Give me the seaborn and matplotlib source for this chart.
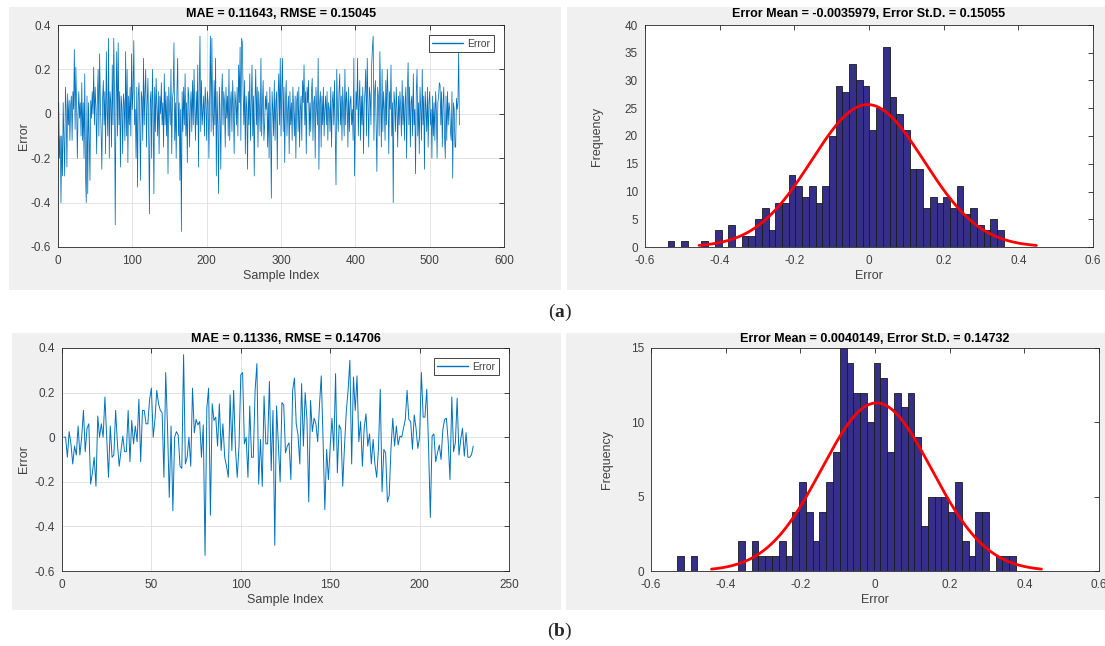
import numpy as np
import pandas as pd
import matplotlib
matplotlib.use("Agg")
import matplotlib.pyplot as plt
import matplotlib.patches as mpatches
import seaborn as sns

# ---------------- data ----------------
# (a) error series, 540 samples
err_a = [
 0.05,-0.20,-0.10,-0.40,-0.10,-0.28,0.05,-0.12,-0.28,0.12,0.02,-0.24,0.09,-0.05,0.06,-0.12,0.04,0.08,-0.12,0.10,
 0.02,0.29,-0.07,0.21,0.05,-0.20,0.00,0.10,-0.02,0.05,-0.10,0.14,-0.12,0.05,-0.20,0.18,-0.27,-0.40,0.08,-0.36,
 0.05,-0.10,-0.30,0.06,-0.02,0.10,0.00,0.21,-0.05,0.12,0.03,-0.18,0.08,0.20,-0.10,0.27,0.05,-0.08,-0.25,0.07,
 0.15,-0.05,0.10,-0.18,0.28,0.02,-0.10,0.34,-0.20,0.10,0.05,-0.15,0.22,-0.05,0.34,0.10,-0.50,0.05,0.28,-0.10,
 0.32,-0.05,0.10,-0.24,0.08,0.03,-0.18,0.09,0.05,-0.12,0.28,-0.10,0.20,-0.22,0.08,-0.05,0.12,-0.10,0.27,0.02,
 0.10,0.33,-0.05,0.02,-0.20,0.12,-0.33,0.08,0.14,-0.05,-0.30,0.10,0.07,-0.12,0.25,-0.05,0.10,0.20,-0.15,0.05,
 0.16,-0.10,-0.45,0.05,0.10,-0.20,0.20,0.02,-0.36,0.12,-0.08,0.16,0.02,-0.10,0.10,-0.18,0.08,0.00,0.14,-0.05,
 0.05,-0.15,0.18,-0.05,0.10,-0.10,0.08,-0.27,0.12,0.02,-0.05,0.20,-0.18,0.07,0.10,0.32,-0.12,0.05,-0.20,0.10,
 0.25,-0.10,0.05,-0.30,0.02,-0.53,0.10,-0.08,0.12,-0.05,0.18,-0.10,0.05,-0.22,0.12,0.08,-0.15,0.03,0.10,-0.08,
 0.15,-0.05,0.20,0.02,-0.12,0.10,-0.05,0.22,-0.24,0.10,0.35,-0.08,0.15,-0.05,0.02,0.08,-0.10,0.12,0.05,-0.12,
 0.10,0.05,-0.20,0.08,0.35,-0.08,0.34,0.00,-0.10,0.15,-0.05,0.25,-0.28,0.10,-0.05,-0.36,0.12,0.02,-0.25,0.08,
 0.18,-0.05,0.10,0.05,-0.15,0.12,-0.02,0.08,-0.10,0.20,-0.12,0.05,0.10,-0.08,0.15,0.02,-0.18,0.10,0.05,-0.05,
 0.12,-0.10,0.22,0.05,0.30,-0.12,0.34,0.32,0.10,-0.05,0.15,-0.18,0.08,0.02,-0.25,0.10,-0.05,0.18,-0.12,0.05,
 0.22,-0.10,0.08,-0.28,0.05,0.20,-0.05,0.12,-0.15,0.10,0.02,-0.08,0.25,-0.10,0.05,0.15,-0.12,-0.05,0.08,0.02,
 0.10,-0.15,0.05,-0.20,0.12,-0.05,-0.38,0.10,0.02,-0.10,0.15,-0.12,0.05,0.10,-0.25,0.08,0.18,-0.05,0.25,-0.10,
 0.10,0.25,-0.08,0.12,-0.22,0.05,0.15,-0.10,0.02,0.08,-0.18,0.10,-0.05,0.05,-0.12,0.12,0.02,-0.10,0.08,-0.20,
 0.05,0.10,-0.08,0.12,-0.15,0.02,0.08,-0.12,0.15,0.05,0.22,-0.05,0.10,-0.18,0.12,0.05,0.15,-0.10,0.05,-0.08,
 0.10,0.16,-0.12,0.05,0.08,-0.20,0.12,0.02,-0.05,0.25,-0.25,0.05,0.10,-0.15,0.08,-0.05,0.12,-0.10,0.02,0.08,
 -0.05,0.10,-0.12,0.05,0.02,-0.08,0.12,-0.15,0.05,0.10,-0.05,0.15,-0.10,-0.32,0.20,0.02,-0.08,0.10,0.18,-0.05,
 0.08,-0.12,0.12,0.02,-0.10,0.20,-0.05,0.10,0.05,-0.15,0.12,-0.08,0.05,0.08,-0.05,0.02,-0.12,0.25,-0.28,-0.05,
 0.10,0.02,0.25,-0.10,0.05,0.15,-0.12,0.08,-0.05,0.12,-0.18,0.05,0.10,0.20,-0.10,0.25,0.05,-0.15,0.12,0.08,
 -0.05,0.22,0.30,0.35,-0.12,0.10,0.15,-0.05,-0.26,0.12,0.08,-0.10,0.28,0.05,-0.15,0.20,-0.08,0.10,0.02,-0.12,
 0.15,-0.05,0.20,0.08,-0.18,0.10,0.02,0.22,-0.10,0.05,-0.40,0.10,0.05,-0.08,0.12,0.02,-0.15,0.08,-0.05,0.10,
 0.02,-0.10,0.15,-0.05,0.08,-0.12,0.05,0.12,-0.20,0.10,0.23,-0.05,0.12,-0.15,0.05,0.08,-0.10,0.18,-0.05,0.02,
 -0.27,0.10,0.20,-0.10,0.05,-0.18,0.12,0.02,-0.12,0.20,-0.05,0.08,-0.25,0.10,0.02,-0.08,0.12,-0.15,0.05,0.10,
 -0.05,0.02,-0.20,0.08,-0.10,0.05,-0.12,0.10,0.02,-0.20,0.05,0.08,0.14,0.13,-0.05,0.10,-0.15,0.05,0.12,-0.10,
 -0.20,0.08,-0.12,0.10,-0.05,0.05,0.02,-0.08,-0.12,0.10,-0.29,0.05,0.02,-0.15,-0.15,0.07,0.02,0.05,0.28,-0.05,
]

# (b) error series, 230 samples
err_b = [
 0.00,0.00,-0.09,0.025,-0.03,-0.12,-0.04,-0.08,0.05,-0.08,
 0.00,0.12,-0.065,0.04,0.06,-0.21,-0.16,-0.09,-0.22,0.095,
 0.00,0.06,0.00,0.18,0.00,-0.18,0.05,-0.09,-0.08,0.12,
 -0.03,-0.13,-0.06,0.005,-0.065,-0.065,0.12,-0.11,0.075,-0.03,
 0.05,-0.02,0.17,-0.11,0.12,0.12,0.06,0.06,0.17,0.22,
 0.00,0.08,0.21,0.15,0.12,0.11,-0.18,0.29,0.05,-0.27,
 0.05,-0.33,0.00,0.025,0.01,-0.13,-0.14,0.37,-0.12,-0.09,
 0.00,-0.13,0.22,0.02,0.08,0.055,0.07,-0.09,0.055,-0.53,
 0.13,0.22,-0.35,0.15,0.075,0.09,-0.04,0.15,-0.06,0.06,
 -0.09,-0.13,-0.18,0.19,-0.06,0.21,-0.05,-0.18,-0.04,0.28,
 0.29,-0.03,0.00,-0.18,0.14,-0.09,-0.09,0.21,0.33,-0.21,
 -0.01,-0.22,0.185,-0.03,-0.03,0.25,-0.15,0.12,-0.485,0.14,
 -0.03,-0.20,0.155,0.145,-0.07,-0.04,-0.025,-0.19,0.21,0.265,
 0.06,0.01,-0.12,0.24,-0.04,0.20,0.08,-0.29,0.165,0.025,
 0.085,0.06,-0.02,0.145,0.275,-0.01,-0.325,-0.055,-0.19,-0.04,
 0.085,-0.06,0.285,-0.16,0.055,0.035,-0.22,-0.04,0.115,0.21,
 0.345,-0.12,0.27,0.12,0.275,-0.02,0.07,-0.13,0.04,0.105,
 -0.04,0.015,-0.12,-0.01,-0.12,-0.18,-0.05,0.215,-0.245,-0.055,
 -0.07,-0.29,-0.26,-0.05,0.085,-0.04,0.05,-0.035,0.005,0.00,
 0.04,0.08,0.21,0.08,0.07,-0.055,0.10,0.04,-0.05,0.00,
 0.29,0.09,0.09,0.215,-0.04,-0.36,0.005,0.015,-0.11,-0.07,
 -0.035,-0.10,0.035,0.08,0.085,-0.02,-0.19,0.18,-0.065,-0.025,
 0.175,-0.08,-0.01,0.04,-0.085,0.02,-0.09,-0.09,-0.08,-0.04,
]

# histogram counts (50 bins each)
counts_a = [1,0,1,0,0,1,0,3,0,4, 0,2,2,5,7,3,8,8,13,11,
            9,11,8,11,20,29,28,33,30,29, 21,25,36,27,24,21,14,14,7,9,
            8,9,7,11,6,7,4,3,5,3]
bin_lo_a, bin_w_a = -0.539, 0.018
counts_b = [1,0,1,0,0,0,0,0,0,2, 0,2,1,1,1,2,1,4,6,4,
            2,4,6,8,15,14,12,12,10,14, 13,8,12,11,12,9,3,5,5,5,
            4,6,2,1,4,4,0,1,1,1]
bin_lo_b, bin_w_b = -0.530, 0.01815

# fit parameters (from titles)
mae_a, rmse_a, mean_a, std_a = "0.11643", "0.15045", -0.0035979, 0.15055
mae_b, rmse_b, mean_b, std_b = "0.11336", "0.14706", 0.0040149, 0.14732

# ---------------- style ----------------
sns.set_style("white")
plt.rcParams['font.family'] = ['Liberation Sans', 'DejaVu Sans']
plt.rcParams['axes.unicode_minus'] = False
plt.rcParams['mathtext.fontset'] = 'custom'
plt.rcParams['mathtext.bf'] = 'Liberation Serif:bold'
plt.rcParams['mathtext.rm'] = 'Liberation Serif'

W, H = 1105, 646
fig = plt.figure(figsize=(W / 100, H / 100), dpi=100)
fig.patch.set_facecolor('white')

PANEL = '#f0f0f0'
AXC = '#262626'
TICKC = '#404040'
LINEC = '#0072BD'
BARC = '#352f8a'


def px_rect(x0, y0, x1, y1):
    return [x0 / W, 1 - y1 / H, (x1 - x0) / W, (y1 - y0) / H]


# gray figure panels (behind the axes)
for (x0, y0, x1, y1) in [(9, 7, 561, 290), (567, 7, 1105, 290),
                         (12, 333, 561, 610), (566, 333, 1105, 610)]:
    r = px_rect(x0, y0, x1, y1)
    fig.patches.append(mpatches.Rectangle((r[0], r[1]), r[2], r[3],
                                          transform=fig.transFigure,
                                          facecolor=PANEL, edgecolor='none',
                                          zorder=-10))


def style_axes(ax, grid):
    for s in ax.spines.values():
        s.set_color(AXC)
        s.set_linewidth(0.6)
        s.set_visible(True)
    ax.tick_params(direction='in', top=True, right=True, length=3.5,
                   width=0.6, color=AXC, labelsize=8.5, labelcolor=TICKC)
    ax.tick_params(axis='x', pad=6)
    ax.tick_params(axis='y', pad=5)
    if grid:
        ax.grid(True, color='#dedede', linewidth=0.6)
        ax.set_axisbelow(True)
    else:
        ax.grid(False)
    ax.set_facecolor('white')


def fmt(v):
    s = f"{v:.1f}"
    if s in ("0.0", "-0.0"):
        return "0"
    return s


def line_panel(rect, data, xmax, title, ylab_px, lw, tpad):
    ax = fig.add_axes(rect)
    ax.set_zorder(1)
    df = pd.DataFrame({'idx': np.arange(1, len(data) + 1), 'err': data})
    sns.lineplot(data=df, x='idx', y='err', ax=ax, color=LINEC, linewidth=lw,
                 label='Error', estimator=None)
    ax.set_xlim(0, xmax)
    ax.set_ylim(-0.6, 0.4)
    yt = np.arange(-0.6, 0.41, 0.2)
    ax.set_yticks(yt)
    ax.set_yticklabels([fmt(v) for v in yt])
    style_axes(ax, True)
    ax.set_xlabel('Sample Index', fontsize=9, color=TICKC, labelpad=2)
    ax.set_ylabel('Error', fontsize=9, color=TICKC)
    ax.yaxis.set_label_coords(ylab_px, 0.5)
    ax.set_title(title, fontsize=9, fontweight='bold', color='black', pad=tpad)
    leg = ax.legend(loc='upper right', fontsize=7.4, frameon=True,
                    fancybox=False, framealpha=1, edgecolor=AXC,
                    handlelength=3.0, borderpad=0.35, handletextpad=0.4,
                    borderaxespad=1.0)
    leg.get_frame().set_linewidth(0.6)
    for h in leg.get_lines():
        h.set_color(LINEC)
        h.set_linewidth(1.0)
    for t in leg.get_texts():
        t.set_color(TICKC)
    return ax


def hist_panel(rect, counts, lo, w, mu, sd, ymax, title, ylab_px, tpad):
    ax = fig.add_axes(rect)
    ax.set_zorder(1)
    counts = np.asarray(counts, dtype=float)
    nb = len(counts)
    edges = lo + w * np.arange(nb + 1)
    centers = 0.5 * (edges[:-1] + edges[1:])
    df = pd.DataFrame({'err': centers, 'cnt': counts})
    sns.histplot(data=df, x='err', weights='cnt', bins=list(edges), ax=ax,
                 color=BARC, edgecolor='#1a1a1a', linewidth=0.6, alpha=1.0)
    n = counts.sum()
    xs = np.linspace(mu - 3 * sd, mu + 3 * sd, 200)
    ys = n * w * np.exp(-0.5 * ((xs - mu) / sd) ** 2) / (sd * np.sqrt(2 * np.pi))
    fit = pd.DataFrame({'x': xs, 'y': ys})
    sns.lineplot(data=fit, x='x', y='y', ax=ax, color='red', linewidth=2.0,
                 estimator=None)
    ax.set_xlim(-0.6, 0.6)
    ax.set_ylim(0, ymax)
    xt = np.arange(-0.6, 0.61, 0.2)
    ax.set_xticks(xt)
    ax.set_xticklabels([fmt(v) for v in xt])
    ax.set_yticks(np.arange(0, ymax + 1, 5))
    style_axes(ax, False)
    ax.set_xlabel('Error', fontsize=9, color=TICKC, labelpad=2)
    ax.set_ylabel('Frequency', fontsize=9, color=TICKC)
    ax.yaxis.set_label_coords(ylab_px, 0.5)
    ax.set_title(title, fontsize=9, fontweight='bold', color='black', pad=tpad)
    return ax


line_panel(px_rect(58, 25, 504, 247), err_a, 600,
           f"MAE = {mae_a}, RMSE = {rmse_a}", -28 / 446, 0.55, 6)
hist_panel(px_rect(645, 25, 1093, 247), counts_a, bin_lo_a, bin_w_a,
           mean_a, std_a, 40,
           f"Error Mean = {mean_a:.7f}, Error St.D. = {std_a}", -42 / 448, 6)
line_panel(px_rect(62, 348, 509, 571), err_b, 250,
           f"MAE = {mae_b}, RMSE = {rmse_b}", -32 / 447, 0.7, 4)
hist_panel(px_rect(651, 348, 1099, 571), counts_b, bin_lo_b, bin_w_b,
           mean_b, std_b, 15,
           f"Error Mean = {mean_b:.7f}, Error St.D. = {std_b}", -38 / 448, 4)

fig.text(560 / W, 1 - 312 / H, r'($\mathbf{a}$)', fontsize=14,
         family='Liberation Serif', ha='center', va='center')
fig.text(560 / W, 1 - 631 / H, r'($\mathbf{b}$)', fontsize=14,
         family='Liberation Serif', ha='center', va='center')

fig.savefig('out.png', dpi=100, facecolor='white')
